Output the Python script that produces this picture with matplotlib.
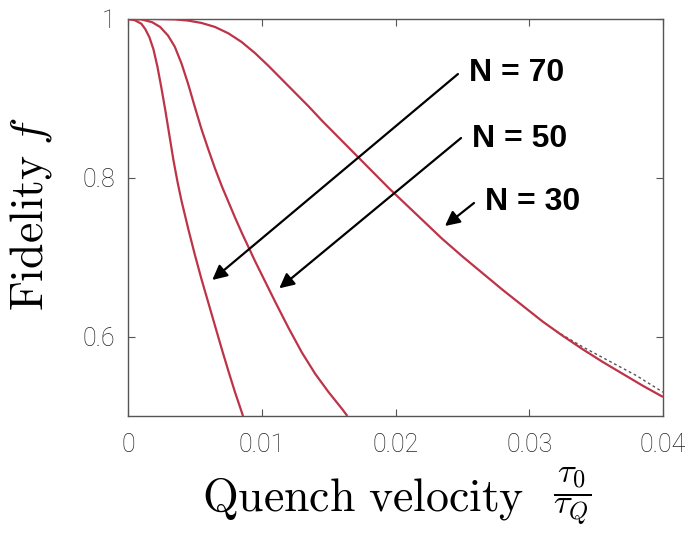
import matplotlib
matplotlib.use("Agg")
import matplotlib.pyplot as plt

plt.rcParams['mathtext.fontset'] = 'cm'

# Data
x70 = [0, 0.0005, 0.001, 0.0013, 0.0016, 0.0019, 0.0022, 0.0025, 0.0028, 0.0031, 0.0034, 0.0037,
       0.004, 0.0045, 0.005, 0.0055, 0.006, 0.0065, 0.007, 0.0075, 0.008, 0.0086]
f70 = [1.0, 0.9985, 0.994, 0.987, 0.977, 0.962, 0.94, 0.913, 0.884, 0.853, 0.822, 0.795,
       0.771, 0.736, 0.703, 0.672, 0.643, 0.614, 0.585, 0.557, 0.53, 0.5]

x50 = [0, 0.001, 0.0018, 0.0024, 0.003, 0.0035, 0.004, 0.0045, 0.005, 0.0055, 0.006, 0.0065,
       0.007, 0.0075, 0.008, 0.0085, 0.009, 0.0095, 0.01, 0.011, 0.012, 0.013, 0.014, 0.015,
       0.016, 0.0164]
f50 = [1.0, 0.9995, 0.996, 0.99, 0.979, 0.965, 0.944, 0.918, 0.889, 0.861, 0.836, 0.812,
       0.79, 0.77, 0.75, 0.731, 0.713, 0.695, 0.678, 0.644, 0.611, 0.58, 0.553, 0.53,
       0.509, 0.5]

x30 = [0, 0.002, 0.0035, 0.0045, 0.0055, 0.0065, 0.0075, 0.0085, 0.0095, 0.0105, 0.0115, 0.0125,
       0.0135, 0.0145, 0.0155, 0.0165, 0.0175, 0.0185, 0.0195, 0.0205, 0.0215, 0.0225, 0.0235,
       0.025, 0.0265, 0.028, 0.0295, 0.031, 0.0325, 0.034, 0.0355, 0.037, 0.0385, 0.04]
f30 = [1.0, 1.0, 0.9995, 0.998, 0.995, 0.99, 0.982, 0.971, 0.957, 0.941, 0.924, 0.907,
       0.89, 0.872, 0.855, 0.838, 0.821, 0.804, 0.787, 0.771, 0.755, 0.739, 0.723,
       0.701, 0.68, 0.659, 0.639, 0.619, 0.601, 0.584, 0.568, 0.553, 0.538, 0.524]

# dashed approximation visible at the tail of N = 30
x30_approx = [0.032, 0.034, 0.036, 0.038, 0.04]
f30_approx = [0.607, 0.587, 0.569, 0.551, 0.530]

xticks = [0, 0.01, 0.02, 0.03, 0.04]
xtick_labels = ['0', '0.01', '0.02', '0.03', '0.04']
yticks = [0.6, 0.8, 1.0]
ytick_labels = ['0.6', '0.8', '1']

labels = ['N = 70', 'N = 50', 'N = 30']

fig = plt.figure(figsize=(6.94, 5.46), dpi=100)
ax = fig.add_axes([128/694, 1-416/546, (663-128)/694, (416-19)/546])

red = '#bd3347'
ax.plot(x30_approx, f30_approx, ls=(0, (2, 2)), color='#555555', lw=1.0, zorder=2)
for xs, fs in [(x70, f70), (x50, f50), (x30, f30)]:
    ax.plot(xs, fs, color=red, lw=1.6, zorder=3, solid_capstyle='butt')

ax.set_xlim(0, 0.04)
ax.set_ylim(0.5, 1.0)
ax.set_xticks(xticks)
ax.set_xticklabels(xtick_labels)
ax.set_yticks(yticks)
ax.set_yticklabels(ytick_labels)
ax.tick_params(direction='in', length=5, width=0.8, color='#555555',
               top=True, right=True, labelsize=18, labelcolor='#222222')
ax.tick_params(axis='x', pad=12)
ax.tick_params(axis='y', pad=9)
for lab in ax.get_xticklabels() + ax.get_yticklabels():
    lab.set_fontfamily('Roboto')
    lab.set_fontweight('light')
for s in ax.spines.values():
    s.set_color('#555555')
    s.set_linewidth(1.0)

# annotations
arrow_kw = dict(arrowstyle='-|>', color='black', lw=1.6, mutation_scale=22,
                shrinkA=0, shrinkB=0)
ax.annotate('', xy=(0.0063, 0.6713), xytext=(0.02467, 0.9307), arrowprops=arrow_kw)
ax.annotate('', xy=(0.01131, 0.6608), xytext=(0.0249, 0.8501), arrowprops=arrow_kw)
ax.annotate('', xy=(0.0237, 0.7393), xytext=(0.02587, 0.7683), arrowprops=arrow_kw)
txt_kw = dict(fontsize=23, fontweight='bold', family='Liberation Sans',
              ha='left', va='center')
ax.text(0.0255, 0.9326, labels[0], **txt_kw)
ax.text(0.02572, 0.8489, labels[1], **txt_kw)
ax.text(0.02669, 0.7695, labels[2], **txt_kw)

fig.text(31/694, 1-214/546, r'$\mathrm{Fidelity}\;f$', rotation=90,
         ha='center', va='center', fontsize=33)
fig.text(202/694, 1-511/546, r'$\mathrm{Quench\ velocity}$',
         ha='left', va='baseline', fontsize=33)
fig.text(553/694, 1-496/546, r'$\dfrac{\tau_0}{\tau_Q}$',
         ha='left', va='center', fontsize=25)

fig.savefig('out.png', dpi=100)
